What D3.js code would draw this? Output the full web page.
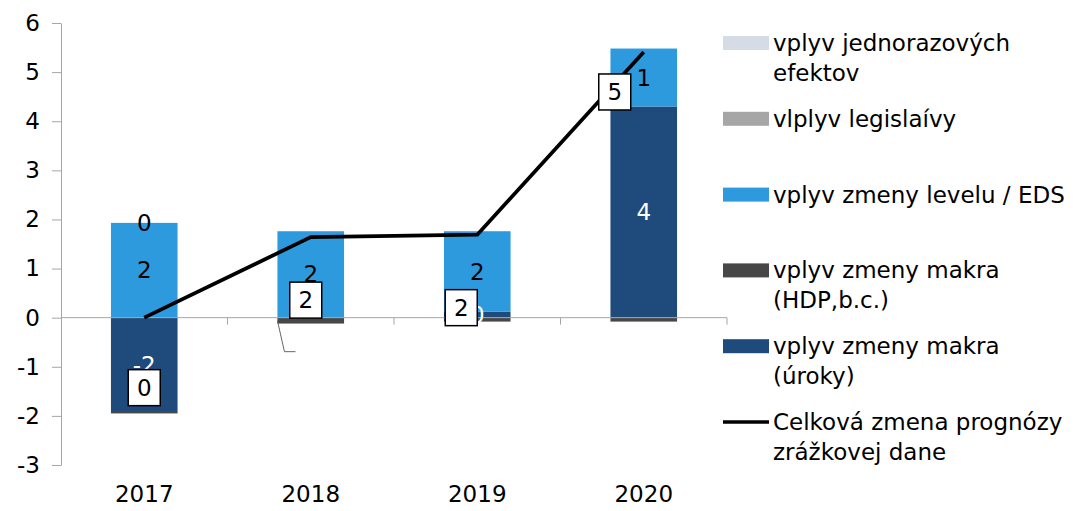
<!DOCTYPE html>
<html>
<head>
<meta charset="utf-8">
<script src="https://cdn.jsdelivr.net/npm/d3@7/dist/d3.min.js"></script>
<style>
  body { margin: 0; background: #fff; }
  svg { display: block; font-family: 'DejaVu Sans', sans-serif; }
</style>
</head>
<body>
<svg id="chart" width="1080" height="511"></svg>
<script>
// data
const years = ['2017', '2018', '2019', '2020']
const uroky = [-1.92, 0, 0.12, 4.3]
const hdp = [-0.03, -0.12, -0.08, -0.08]
const eds = [1.93, 1.76, 1.64, 1.18]
const legislativa = [0, 0, 0, 0]
const jednorazove = [0, 0, 0, 0]
const celkova = [0, 1.64, 1.69, 5.41]
const yTicks = [-3, -2, -1, 0, 1, 2, 3, 4, 5, 6]

// stacking order = excel series order, legend shows it reversed
const series = [
  { key: 'uroky', values: uroky, color: '#1f4a7c', text: '#fff', name: ['vplyv zmeny makra', '(úroky)'], labelled: ['2017', '2019', '2020'] },
  { key: 'hdp', values: hdp, color: '#474747', text: '#000', name: ['vplyv zmeny makra', '(HDP,b.c.)'], labelled: [] },
  { key: 'eds', values: eds, color: '#2e9ade', text: '#000', name: ['vplyv zmeny levelu / EDS'], labelled: years },
  { key: 'leg', values: legislativa, color: '#a6a6a6', text: '#000', name: ['vlplyv legislaívy'], labelled: [] },
  { key: 'jedn', values: jednorazove, color: '#d6dce6', text: '#000', name: ['vplyv jednorazových', 'efektov'], labelled: ['2017'] },
]

// manual shifts of the total labels (moved by hand in the original)
const totalLabelShift = [[0, 70], [-5, 63], [-16, 73], [-29, 40]]

const svg = d3.select('#chart')
const fontSize = 23

const x = d3.scaleBand()
  .domain(years)
  .range([61, 727])
  .paddingInner(0.6)
  .paddingOuter(0.3)

const y = d3.scaleLinear().domain([-3, 6]).range([465, 23])
const bw = x.bandwidth()
const cx = (yr) => x(yr) + bw / 2

// diverging stack, zero values sit on top of the positive stack
const segments = []
years.forEach((yr, j) => {
  let pos = 0
  let neg = 0
  series.forEach((s) => {
    const v = s.values[j]
    let y0, y1
    if (v >= 0) { y0 = pos; y1 = pos += v } else { y1 = neg; y0 = neg += v }
    segments.push({ yr, v, y0, y1, s })
  })
})

// y axis
const yAxis = svg.append('g')
  .attr('transform', 'translate(61,0)')
  .call(d3.axisLeft(y).tickValues(yTicks).tickSize(9).tickSizeOuter(0).tickPadding(12).tickFormat(String))
yAxis.select('.domain').attr('stroke', '#a6a6a6')
yAxis.selectAll('.tick line').attr('stroke', '#a6a6a6')
yAxis.selectAll('.tick text')
  .attr('font-size', fontSize)
  .attr('font-family', 'DejaVu Sans, sans-serif')
  .attr('fill', '#000')

// bars
svg.append('g')
  .selectAll('rect')
  .data(segments.filter((d) => d.v !== 0))
  .join('rect')
  .attr('x', (d) => x(d.yr))
  .attr('width', bw)
  .attr('y', (d) => y(d.y1))
  .attr('height', (d) => y(d.y0) - y(d.y1))
  .attr('fill', (d) => d.s.color)

// zero line with category boundary ticks
const x0 = x.range()[0]
svg.append('line')
  .attr('x1', x0).attr('x2', x.range()[1])
  .attr('y1', y(0)).attr('y2', y(0))
  .attr('stroke', '#a6a6a6')
svg.append('g')
  .selectAll('line')
  .data(d3.range(1, years.length + 1))
  .join('line')
  .attr('x1', (i) => x0 + i * x.step())
  .attr('x2', (i) => x0 + i * x.step())
  .attr('y1', y(0))
  .attr('y2', y(0) + 7)
  .attr('stroke', '#a6a6a6')

// leftover leader line next to the 2018 bar
svg.append('polyline')
  .attr('points', [[x('2018'), y(0) + 3], [x('2018') + 7, y(0) + 34], [x('2018') + 18, y(0) + 34]].join(' '))
  .attr('fill', 'none')
  .attr('stroke', '#666')
  .attr('stroke-width', 1)

// year labels
const xAxis = svg.append('g')
  .attr('transform', `translate(0,${y(-3)})`)
  .call(d3.axisBottom(x).tickSize(0).tickPadding(21))
xAxis.select('.domain').remove()
xAxis.selectAll('.tick text')
  .attr('font-size', fontSize)
  .attr('font-family', 'DejaVu Sans, sans-serif')
  .attr('fill', '#000')

// segment labels
svg.append('g')
  .selectAll('text')
  .data(segments.filter((d) => d.s.labelled.includes(d.yr)))
  .join('text')
  .attr('x', (d) => cx(d.yr))
  .attr('y', (d) => y((d.y0 + d.y1) / 2))
  .attr('dy', '0.35em')
  .attr('text-anchor', 'middle')
  .attr('font-size', fontSize)
  .attr('fill', (d) => d.s.text)
  .text((d) => String(Math.round(d.v) || 0))

// total line
const line = d3.line()
  .x((d, i) => cx(years[i]))
  .y((d) => y(d))
svg.append('path')
  .datum(celkova)
  .attr('d', line)
  .attr('fill', 'none')
  .attr('stroke', '#000')
  .attr('stroke-width', 3.75)
  .attr('stroke-linejoin', 'round')

// boxed total labels
const boxes = svg.append('g')
  .selectAll('g')
  .data(celkova)
  .join('g')
  .attr('transform', (d, i) => `translate(${cx(years[i]) + totalLabelShift[i][0]},${y(d) + totalLabelShift[i][1]})`)
boxes.append('rect')
  .attr('x', -16).attr('y', -18)
  .attr('width', 32).attr('height', 36)
  .attr('fill', '#fff')
  .attr('stroke', '#000')
  .attr('stroke-width', 1.5)
boxes.append('text')
  .attr('dy', '0.35em')
  .attr('text-anchor', 'middle')
  .attr('font-size', fontSize)
  .text((d) => String(Math.round(d)))

// legend
const legendItems = series.slice().reverse().map((s) => ({ name: s.name, color: s.color, line: false }))
legendItems.push({ name: ['Celková zmena prognózy', 'zrážkovej dane'], color: '#000', line: true })

const legend = svg.append('g')
  .selectAll('g')
  .data(legendItems)
  .join('g')
  .attr('transform', (d, i) => `translate(723,${43 + i * 75.8})`)

legend.filter((d) => !d.line)
  .append('rect')
  .attr('x', 0).attr('y', -7)
  .attr('width', 46).attr('height', 14)
  .attr('fill', (d) => d.color)
legend.filter((d) => d.line)
  .append('line')
  .attr('x1', 0).attr('x2', 46)
  .attr('stroke', '#000')
  .attr('stroke-width', 3.5)

legend.append('text')
  .attr('x', 50)
  .attr('font-size', fontSize)
  .attr('fill', '#000')
  .selectAll('tspan')
  .data((d) => d.name)
  .join('tspan')
  .attr('x', 50)
  .attr('y', (d, i) => i * 30)
  .attr('dy', '0.35em')
  .text((d) => d)
</script>
</body>
</html>
